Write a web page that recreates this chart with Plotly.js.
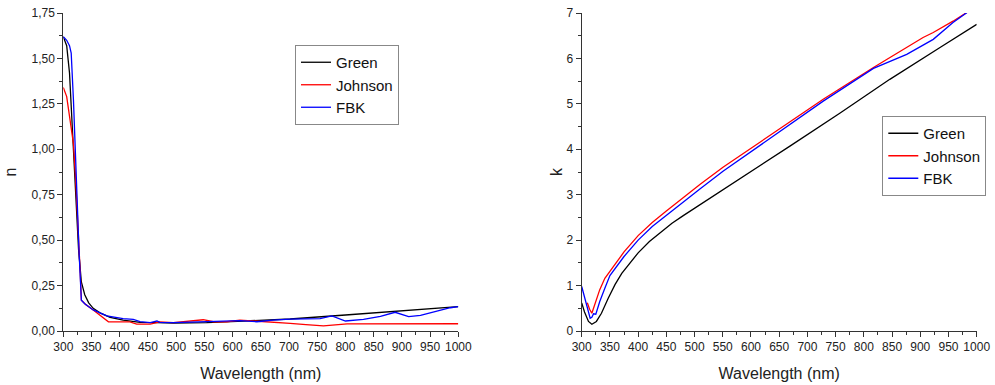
<!DOCTYPE html>
<html>
<head>
<meta charset="utf-8">
<script src="https://cdn.plot.ly/plotly-3.0.1.min.js"></script>
<style>
html,body{margin:0;padding:0;background:#fff;}
#chart{width:995px;height:385px;}
</style>
</head>
<body>
<div id="chart"></div>
<script>
// ---- Data: refractive index n ----
const nGreenWl = [300, 306, 311, 315, 321, 327, 332, 338, 345, 353, 365, 383, 406, 436, 466, 495, 554, 613, 672, 702, 800, 900, 1000];
const nGreen   = [1.62, 1.57, 1.42, 1.18, 0.81, 0.45, 0.27, 0.20, 0.155, 0.125, 0.10, 0.075, 0.06, 0.048, 0.046, 0.044, 0.046, 0.055, 0.064, 0.066, 0.088, 0.111, 0.134];

const nJohnsonWl = [300, 306, 312, 318, 322, 327, 330, 332, 340, 353, 365, 380, 418, 430, 454, 471, 495, 525, 548, 566, 590, 613, 643, 672, 702, 730, 761, 803, 850, 900, 950, 1000];
const nJohnson   = [1.34, 1.29, 1.16, 1.03, 0.83, 0.54, 0.32, 0.17, 0.145, 0.116, 0.085, 0.051, 0.05, 0.038, 0.038, 0.05, 0.046, 0.055, 0.062, 0.051, 0.051, 0.06, 0.055, 0.048, 0.042, 0.035, 0.028, 0.039, 0.04, 0.04, 0.04, 0.04];

const nFbkWl = [300, 306, 311, 314, 318, 322, 325, 328, 332, 338, 353, 377, 406, 424, 436, 454, 466, 471, 495, 554, 613, 643, 672, 702, 755, 776, 788, 800, 832, 862, 888, 912, 933, 962, 986, 1000];
const nFbk   = [1.62, 1.60, 1.57, 1.53, 1.27, 0.91, 0.72, 0.43, 0.17, 0.15, 0.116, 0.083, 0.068, 0.064, 0.051, 0.046, 0.055, 0.048, 0.046, 0.05, 0.057, 0.051, 0.06, 0.065, 0.068, 0.083, 0.07, 0.055, 0.064, 0.081, 0.103, 0.079, 0.086, 0.11, 0.128, 0.134];

// ---- Data: extinction coefficient k ----
const kGreenWl = [300, 305, 312, 318, 326, 335, 347, 359, 371, 385, 400, 420, 440, 460, 480, 500, 540, 580, 669, 758, 846, 935, 1000];
const kGreen   = [0.62, 0.42, 0.21, 0.15, 0.21, 0.39, 0.72, 1.02, 1.27, 1.50, 1.72, 1.97, 2.18, 2.37, 2.54, 2.70, 3.02, 3.35, 4.07, 4.80, 5.54, 6.24, 6.75];

const kJohnsonWl = [310, 314, 318, 324, 332, 341, 352, 375, 400, 425, 450, 474, 510, 551, 640, 728, 817, 876, 905, 923, 958, 1000];
const kJohnson   = [0.62, 0.48, 0.39, 0.61, 0.91, 1.16, 1.35, 1.74, 2.10, 2.39, 2.64, 2.88, 3.23, 3.61, 4.36, 5.10, 5.80, 6.24, 6.46, 6.57, 6.82, 7.15];

const kFbkWl = [300, 306, 312, 315, 318, 321, 325, 332, 341, 350, 375, 400, 425, 450, 474, 510, 551, 640, 728, 817, 876, 923, 958, 985, 1000];
const kFbk   = [0.98, 0.68, 0.39, 0.28, 0.30, 0.38, 0.37, 0.65, 0.94, 1.22, 1.64, 2.00, 2.30, 2.55, 2.78, 3.13, 3.52, 4.29, 5.06, 5.78, 6.09, 6.42, 6.79, 7.03, 7.17];

const seriesNames = ["Green", "Johnson", "FBK"];
const seriesColors = ["#000000", "#ff0000", "#0000ff"];

// tick labels
const xTickVals = [300, 350, 400, 450, 500, 550, 600, 650, 700, 750, 800, 850, 900, 950, 1000];
const xTickText = ["300", "350", "400", "450", "500", "550", "600", "650", "700", "750", "800", "850", "900", "950", "1000"];
const nTickVals = [0, 0.25, 0.5, 0.75, 1.0, 1.25, 1.5, 1.75];
const nTickText = ["0,00", "0,25", "0,50", "0,75", "1,00", "1,25", "1,50", "1,75"];
const kTickVals = [0, 1, 2, 3, 4, 5, 6, 7];
const kTickText = ["0", "1", "2", "3", "4", "5", "6", "7"];

const FONT = "Liberation Sans, Arial, sans-serif";
const W = 995;

function mk(x, y, i, xa, ya, leg) {
  return {
    x: x, y: y, type: "scatter", mode: "lines",
    name: seriesNames[i], xaxis: xa, yaxis: ya, legend: leg,
    line: {color: seriesColors[i], width: 1.3},
    hoverinfo: "x+y+name"
  };
}

const data = [
  mk(nGreenWl, nGreen, 0, "x", "y", "legend"),
  mk(nJohnsonWl, nJohnson, 1, "x", "y", "legend"),
  mk(nFbkWl, nFbk, 2, "x", "y", "legend"),
  mk(kGreenWl, kGreen, 0, "x2", "y2", "legend2"),
  mk(kJohnsonWl, kJohnson, 1, "x2", "y2", "legend2"),
  mk(kFbkWl, kFbk, 2, "x2", "y2", "legend2")
];

const axisCommon = {
  showline: true, linecolor: "#333", linewidth: 1, mirror: false,
  showgrid: false, zeroline: false,
  ticks: "outside", ticklen: 5, tickwidth: 1, tickcolor: "#333",
  tickfont: {family: FONT, size: 12, color: "#222"},
  fixedrange: true
};

function xAxis(domain, anchor) {
  return Object.assign({}, axisCommon, {
    domain: domain, anchor: anchor, range: [300, 1000],
    tickmode: "array", tickvals: xTickVals, ticktext: xTickText,
    minor: {ticks: "outside", ticklen: 3, tickwidth: 1, tickcolor: "#333", dtick: 25, tick0: 300, showgrid: false},
    title: {text: "Wavelength (nm)", font: {family: FONT, size: 16, color: "#222"}, standoff: 14}
  });
}

const layout = {
  width: 995, height: 385,
  margin: {l: 0, r: 0, t: 13, b: 54, pad: 0},
  paper_bgcolor: "#fff", plot_bgcolor: "#fff",
  font: {family: FONT, color: "#222"},
  showlegend: true,
  xaxis: xAxis([63.3 / W, 458.3 / W], "y"),
  xaxis2: xAxis([581.7 / W, 976.7 / W], "y2"),
  yaxis: Object.assign({}, axisCommon, {
    domain: [0, 1], anchor: "x", range: [0, 1.75],
    tickmode: "array", tickvals: nTickVals, ticktext: nTickText,
    minor: {ticks: "outside", ticklen: 3, tickwidth: 1, tickcolor: "#333", dtick: 0.125, tick0: 0, showgrid: false},
    title: {text: "n", font: {family: FONT, size: 16, color: "#222"}, standoff: 10}
  }),
  yaxis2: Object.assign({}, axisCommon, {
    domain: [0, 1], anchor: "x2", range: [0, 7],
    tickmode: "array", tickvals: kTickVals, ticktext: kTickText,
    minor: {ticks: "outside", ticklen: 3, tickwidth: 1, tickcolor: "#333", dtick: 0.5, tick0: 0, showgrid: false},
    title: {text: "k", font: {family: FONT, size: 16, color: "#222"}, standoff: 0}
  }),
  legend: {
    x: 295 / W, y: (331 - 45) / 318, xanchor: "left", yanchor: "top",
    bgcolor: "#fff", bordercolor: "#888", borderwidth: 1,
    font: {family: FONT, size: 15, color: "#111"},
    tracegroupgap: 0, itemwidth: 30
  },
  legend2: {
    x: 882.3 / W, y: (331 - 116) / 318, xanchor: "left", yanchor: "top",
    bgcolor: "#fff", bordercolor: "#888", borderwidth: 1,
    font: {family: FONT, size: 15, color: "#111"},
    tracegroupgap: 0, itemwidth: 30
  }
};

Plotly.newPlot("chart", data, layout, {staticPlot: true, displayModeBar: false});
</script>
</body>
</html>
